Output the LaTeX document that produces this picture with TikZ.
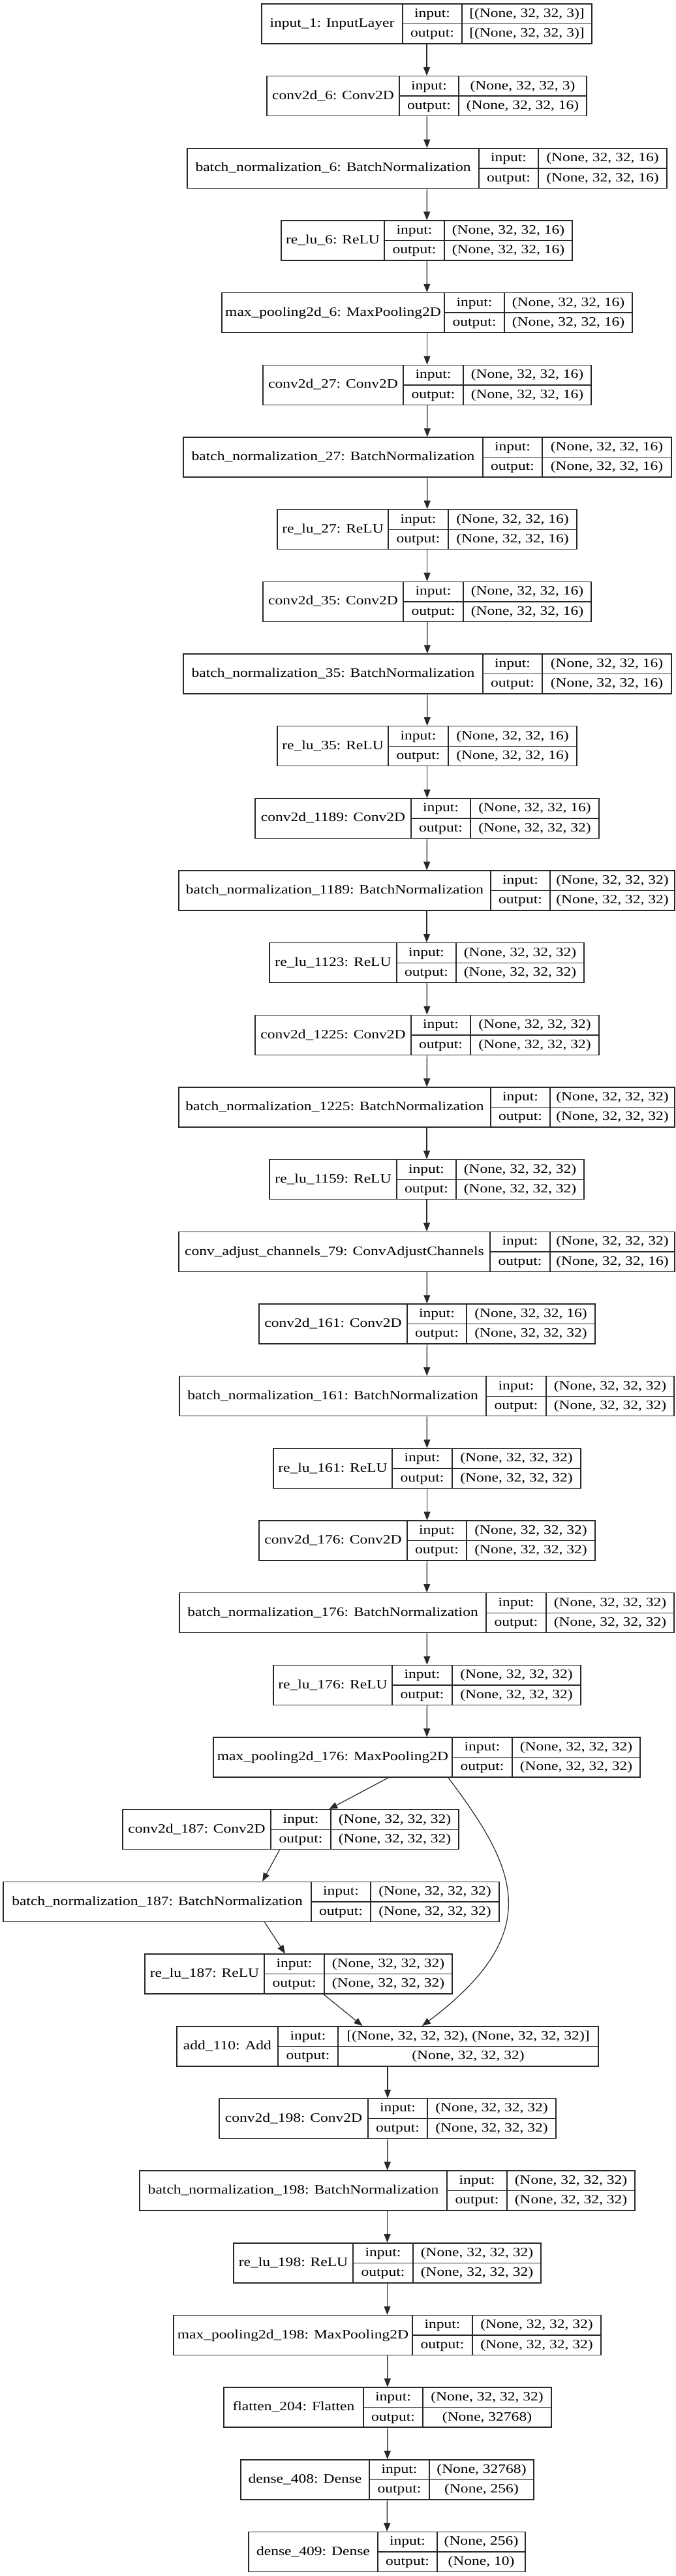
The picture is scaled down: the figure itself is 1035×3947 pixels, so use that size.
\documentclass[tikz,border=0pt]{standalone}
\usepackage{fontspec}
\setmainfont{Liberation Serif}[FakeStretch=1.2]
\usetikzlibrary{arrows.meta,calc}
\definecolor{inkgray}{RGB}{40,40,40}
\tikzset{
  layerbox/.style={draw=inkgray,line width=0.7pt,inner sep=0pt,minimum height=30.5pt},
  divider/.style={inkgray,line width=0.7pt},
  flow/.style={-{Triangle[length=6.5pt,width=5pt]},inkgray,line width=0.6pt},
  txt/.style={inner sep=0pt,font=\fontsize{9.8pt}{11pt}\selectfont,text height=0.69em,text depth=0.18em},
}

\begin{document}
\begin{tikzpicture}[x=0.5pt,y=-0.5pt]
  \path[use as bounding box] (0,0) rectangle (1035,3947);

  % one record per layer: id/row/left/div1/div2/right/name/input/output
  \foreach \id/\row/\xl/\xa/\xb/\xr/\nm/\inp/\outp in {
    input1/1/401/617/708/907/{input\_1: InputLayer}/{[(None, 32, 32, 3)]}/{[(None, 32, 32, 3)]},
    conv6/2/409/612/703/899/{conv2d\_6: Conv2D}/{(None, 32, 32, 3)}/{(None, 32, 32, 16)},
    bn6/3/287/734/825/1022/{batch\_normalization\_6: BatchNormalization}/{(None, 32, 32, 16)}/{(None, 32, 32, 16)},
    relu6/4/431/589/681/877/{re\_lu\_6: ReLU}/{(None, 32, 32, 16)}/{(None, 32, 32, 16)},
    pool6/5/340/681/773/969/{max\_pooling2d\_6: MaxPooling2D}/{(None, 32, 32, 16)}/{(None, 32, 32, 16)},
    conv27/6/403/618/710/906/{conv2d\_27: Conv2D}/{(None, 32, 32, 16)}/{(None, 32, 32, 16)},
    bn27/7/281/740/831/1029/{batch\_normalization\_27: BatchNormalization}/{(None, 32, 32, 16)}/{(None, 32, 32, 16)},
    relu27/8/425/595/687/884/{re\_lu\_27: ReLU}/{(None, 32, 32, 16)}/{(None, 32, 32, 16)},
    conv35/9/403/618/710/906/{conv2d\_35: Conv2D}/{(None, 32, 32, 16)}/{(None, 32, 32, 16)},
    bn35/10/281/740/831/1029/{batch\_normalization\_35: BatchNormalization}/{(None, 32, 32, 16)}/{(None, 32, 32, 16)},
    relu35/11/425/595/687/884/{re\_lu\_35: ReLU}/{(None, 32, 32, 16)}/{(None, 32, 32, 16)},
    conv1189/12/391/630/721/918/{conv2d\_1189: Conv2D}/{(None, 32, 32, 16)}/{(None, 32, 32, 32)},
    bn1189/13/274/752/843/1034/{batch\_normalization\_1189: BatchNormalization}/{(None, 32, 32, 32)}/{(None, 32, 32, 32)},
    relu1123/14/413/608/699/895/{re\_lu\_1123: ReLU}/{(None, 32, 32, 32)}/{(None, 32, 32, 32)},
    conv1225/15/391/630/721/918/{conv2d\_1225: Conv2D}/{(None, 32, 32, 32)}/{(None, 32, 32, 32)},
    bn1225/16/274/752/843/1034/{batch\_normalization\_1225: BatchNormalization}/{(None, 32, 32, 32)}/{(None, 32, 32, 32)},
    relu1159/17/413/608/699/895/{re\_lu\_1159: ReLU}/{(None, 32, 32, 32)}/{(None, 32, 32, 32)},
    adjust79/18/274/751/843/1034/{conv\_adjust\_channels\_79: ConvAdjustChannels}/{(None, 32, 32, 32)}/{(None, 32, 32, 16)},
    conv161/19/397/624/715/912/{conv2d\_161: Conv2D}/{(None, 32, 32, 16)}/{(None, 32, 32, 32)},
    bn161/20/275/745/837/1033/{batch\_normalization\_161: BatchNormalization}/{(None, 32, 32, 32)}/{(None, 32, 32, 32)},
    relu161/21/419/601/693/890/{re\_lu\_161: ReLU}/{(None, 32, 32, 32)}/{(None, 32, 32, 32)},
    conv176/22/397/624/715/912/{conv2d\_176: Conv2D}/{(None, 32, 32, 32)}/{(None, 32, 32, 32)},
    bn176/23/275/745/837/1033/{batch\_normalization\_176: BatchNormalization}/{(None, 32, 32, 32)}/{(None, 32, 32, 32)},
    relu176/24/419/601/693/890/{re\_lu\_176: ReLU}/{(None, 32, 32, 32)}/{(None, 32, 32, 32)},
    pool176/25/327/693/785/981/{max\_pooling2d\_176: MaxPooling2D}/{(None, 32, 32, 32)}/{(None, 32, 32, 32)},
    conv187/26/188/415/507/703/{conv2d\_187: Conv2D}/{(None, 32, 32, 32)}/{(None, 32, 32, 32)},
    bn187/27/5/477/568/765/{batch\_normalization\_187: BatchNormalization}/{(None, 32, 32, 32)}/{(None, 32, 32, 32)},
    relu187/28/222/405/497/693/{re\_lu\_187: ReLU}/{(None, 32, 32, 32)}/{(None, 32, 32, 32)},
    add110/29/271/426/518/917/{add\_110: Add}/{[(None, 32, 32, 32), (None, 32, 32, 32)]}/{(None, 32, 32, 32)},
    conv198/30/336/564/655/852/{conv2d\_198: Conv2D}/{(None, 32, 32, 32)}/{(None, 32, 32, 32)},
    bn198/31/214/685/777/973/{batch\_normalization\_198: BatchNormalization}/{(None, 32, 32, 32)}/{(None, 32, 32, 32)},
    relu198/32/358/541/633/829/{re\_lu\_198: ReLU}/{(None, 32, 32, 32)}/{(None, 32, 32, 32)},
    pool198/33/266/632/724/921/{max\_pooling2d\_198: MaxPooling2D}/{(None, 32, 32, 32)}/{(None, 32, 32, 32)},
    flatten204/34/343/557/648/845/{flatten\_204: Flatten}/{(None, 32, 32, 32)}/{(None, 32768)},
    dense408/35/369/566/658/818/{dense\_408: Dense}/{(None, 32768)}/{(None, 256)},
    dense409/36/381/579/670/805/{dense\_409: Dense}/{(None, 256)}/{(None, 10)}
  }{
    \pgfmathsetmacro\cy{36.5+(\row-1)*110.67}
    \node[layerbox,minimum width={(\xr-\xl)*0.5pt}] (\id) at ({(\xl+\xr)/2},\cy) {};
    \draw[divider] (\xa,\cy-30.5) -- (\xa,\cy+30.5);
    \draw[divider] (\xb,\cy-30.5) -- (\xb,\cy+30.5);
    \draw[divider] (\xa,\cy) -- (\xr,\cy);
    \node[txt] at ({(\xl+\xa)/2},\cy) {\nm};
    \node[txt] at ({(\xa+\xb)/2},\cy-15.25) {input:};
    \node[txt] at ({(\xa+\xb)/2},\cy+15.25) {output:};
    \node[txt] at ({(\xb+\xr)/2},\cy-15.25) {\inp};
    \node[txt] at ({(\xb+\xr)/2},\cy+15.25) {\outp};
  }

  \foreach \src/\dst in {input1/conv6,conv6/bn6,bn6/relu6,relu6/pool6,pool6/conv27,
    conv27/bn27,bn27/relu27,relu27/conv35,conv35/bn35,bn35/relu35,relu35/conv1189,
    conv1189/bn1189,bn1189/relu1123,relu1123/conv1225,conv1225/bn1225,bn1225/relu1159,
    relu1159/adjust79,adjust79/conv161,conv161/bn161,bn161/relu161,relu161/conv176,
    conv176/bn176,bn176/relu176,relu176/pool176,pool176/conv187,conv187/bn187,
    bn187/relu187,relu187/add110,add110/conv198,conv198/bn198,bn198/relu198,
    relu198/pool198,pool198/flatten204,flatten204/dense408,dense408/dense409}
    \draw[flow] (\src) -- (\dst);

  % skip connection
  \draw[flow] ($(pool176.south)+(33,0)$) .. controls +(103,137) and +(193,-145) .. ($(add110.north)+(53,0)$);
\end{tikzpicture}
\end{document}
